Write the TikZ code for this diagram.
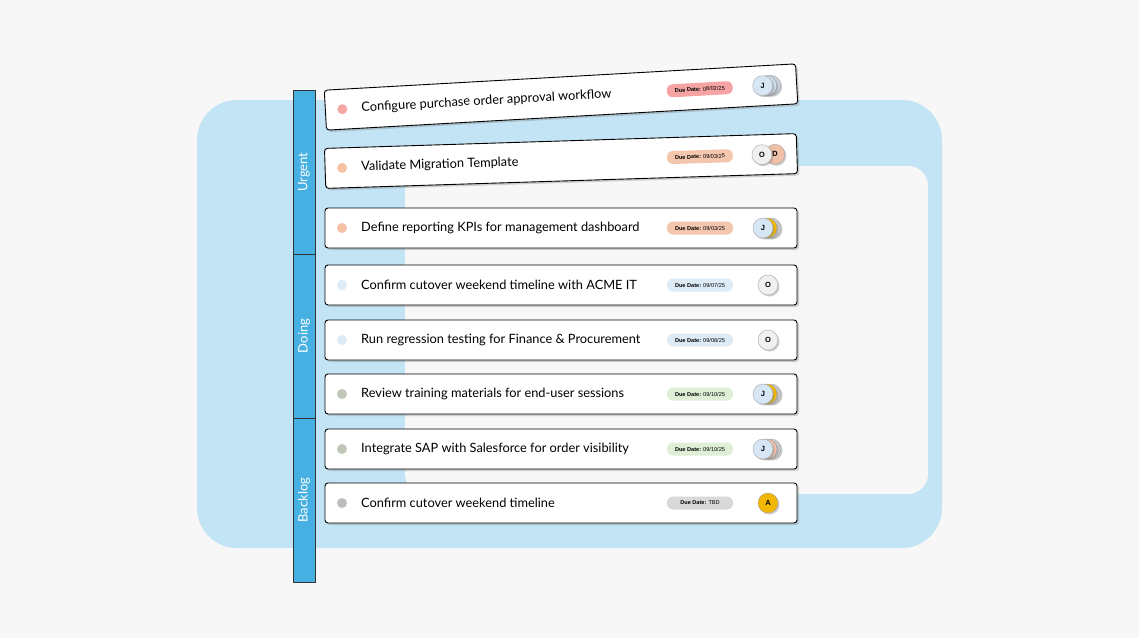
\documentclass[tikz,border=0pt]{standalone}
\usepackage{fontspec}
\setmainfont{Lato}
\newfontfamily\pillfont{Liberation Sans}
\usetikzlibrary{shadows}
\definecolor{bgc}{HTML}{F7F7F7}
\definecolor{lb}{HTML}{C2E4F4}
\definecolor{side}{HTML}{45B0E1}
\definecolor{dred}{HTML}{F4A7A3}
\definecolor{dpeach}{HTML}{F5C2A8}
\definecolor{dblue}{HTML}{DDEBF7}
\definecolor{dsage}{HTML}{BEC7B8}
\definecolor{dgray}{HTML}{BDBDBD}
\definecolor{pred}{HTML}{F5A3A3}
\definecolor{ppeach}{HTML}{F5C6AE}
\definecolor{pblue}{HTML}{DDEBF7}
\definecolor{pgreen}{HTML}{DEEFD6}
\definecolor{pgray}{HTML}{D9D9D9}
\definecolor{aJ}{HTML}{D6E6F5}
\definecolor{aY}{HTML}{F2B705}
\definecolor{aG}{HTML}{C8C8C8}
\definecolor{aD}{HTML}{F0BFA8}
\definecolor{aO}{HTML}{F0F0F0}
\tikzset{
 cardbox/.style={draw=black,line width=0.9pt,fill=white,rounded corners=3pt,minimum width=472pt,minimum height=40pt,drop shadow={shadow xshift=2pt,shadow yshift=-2pt,opacity=0.35}},
 av/.style={circle,draw=gray!70,line width=0.4pt,minimum size=20pt,inner sep=0pt,font=\pillfont\bfseries\fontsize{7.5}{8}\selectfont,drop shadow={shadow xshift=1.5pt,shadow yshift=-1.5pt,opacity=0.4}},
 pill/.style={rounded corners=6pt,minimum width=66pt,minimum height=13pt,inner sep=0pt,font=\pillfont\fontsize{5.6}{6}\selectfont},
 lane/.style={draw=black!80,fill=side,line width=0.6pt},
 lanetxt/.style={rotate=90,text=white,font=\fontsize{13}{14}\selectfont}
}
\newcommand{\taskcard}[8]{%
\begin{scope}[shift={(#1,#2)},rotate=#3,transform shape]
 \node[cardbox] (c) at (0,0) {};
 \fill[#4] (-219,0) circle (5pt);
 \node[anchor=west,font=\fontsize{12.8}{14}\selectfont,inner sep=0pt] (t) at (-200,0) {#5};
 \node[pill,fill=#6] (p) at (139,0) {\textbf{Due Date:} #7};
 #8
\end{scope}}
\begin{document}
\begin{tikzpicture}[x=1pt,y=-1pt]
\fill[bgc] (0,0) rectangle (1139,638);
\useasboundingbox (0,0) rectangle (1139,638);
\fill[lb,rounded corners=40pt] (197,100) rectangle (942,548);
\fill[bgc,rounded corners=20pt] (405,166) rectangle (928,494);
\draw[lane] (293,90) rectangle (315,254);
\draw[lane] (293,254) rectangle (315,418);
\draw[lane] (293,418) rectangle (315,582);
\node[lanetxt] (u) at (304,172) {Urgent};
\node[lanetxt] (d) at (304,336) {Doing};
\node[lanetxt] (b) at (304,500) {Backlog};
\taskcard{561}{97}{3.2}{dred}{Configure purchase order approval workflow}{pred}{08/02/25}{%
 \node[av,fill=aJ!80!gray] at (210,0) {}; \node[av,fill=aJ!90!gray] at (206,0) {}; \node[av,fill=aJ] at (202,0) {J};}
\taskcard{561}{161}{1.8}{dpeach}{Validate Migration Template}{ppeach}{09/03/25}{%
 \node[av,fill=aD] at (214,0) {D}; \node[av,fill=aO] at (201,0) {O};}
\taskcard{561}{228}{0}{dpeach}{Define reporting KPIs for management dashboard}{ppeach}{09/03/25}{%
 \node[av,fill=aG] at (210,0) {}; \node[av,fill=aY] at (206,0) {}; \node[av,fill=aJ] at (202,0) {J};}
\taskcard{561}{285}{0}{dblue}{Confirm cutover weekend timeline with ACME IT}{pblue}{09/07/25}{%
 \node[av,fill=aO] at (207,0) {O};}
\taskcard{561}{340}{0}{dblue}{Run regression testing for Finance \& Procurement}{pblue}{09/08/25}{%
 \node[av,fill=aO] at (207,0) {O};}
\taskcard{561}{394}{0}{dsage}{Review training materials for end-user sessions}{pgreen}{09/10/25}{%
 \node[av,fill=aG] at (210,0) {}; \node[av,fill=aY] at (206,0) {}; \node[av,fill=aJ] at (202,0) {J};}
\taskcard{561}{449}{0}{dsage}{Integrate SAP with Salesforce for order visibility}{pgreen}{09/10/25}{%
 \node[av,fill=aG] at (210,0) {}; \node[av,fill=aD] at (206,0) {}; \node[av,fill=aJ] at (202,0) {J};}
\taskcard{561}{503}{0}{dgray}{Confirm cutover weekend timeline}{pgray}{TBD}{%
 \node[av,fill=aY] at (207,0) {A};}
\end{tikzpicture}
\end{document}
